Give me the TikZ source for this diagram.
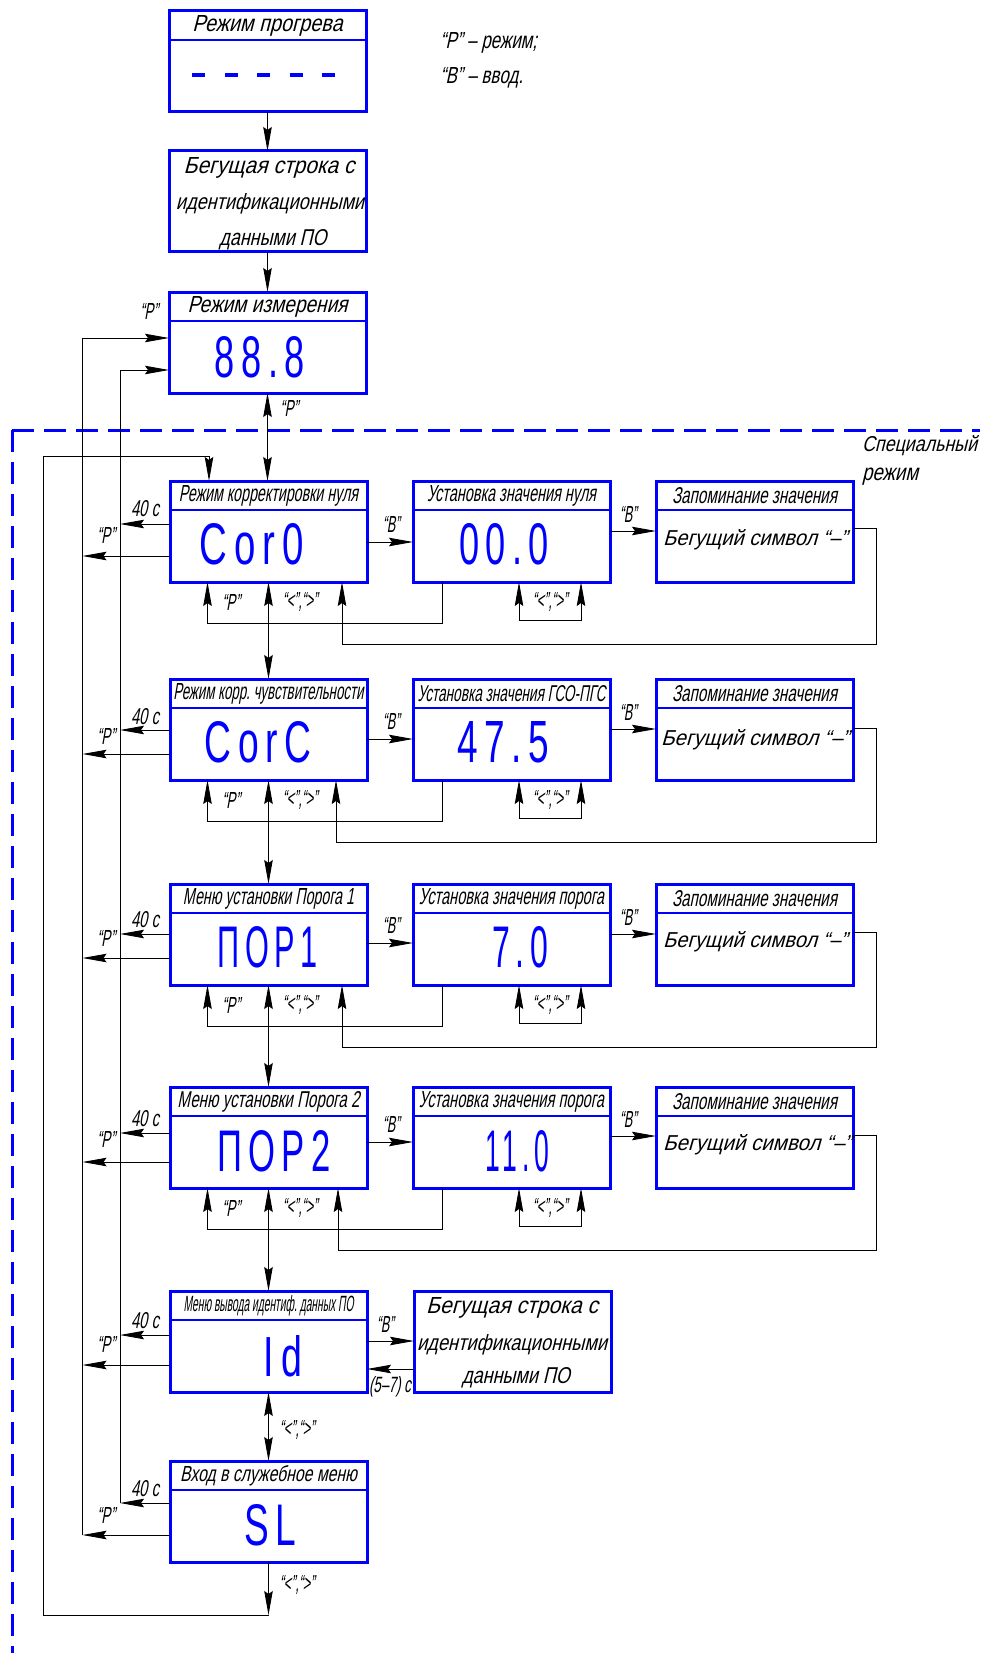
\documentclass[tikz,border=0pt]{standalone}
\usepackage{fontspec}
\usepackage{graphicx}
\usetikzlibrary{arrows.meta}
\newfontfamily\gostf[FakeSlant=0.3]{Liberation Sans}
\newfontfamily\segf[LetterSpace=18]{Liberation Sans}
\definecolor{dblue}{RGB}{0,0,255}
\newcommand\gtxt[2]{\resizebox{#1pt}{16pt}{\gostf #2}}
\newcommand\gtxh[3]{\resizebox{#1pt}{#2pt}{\gostf #3}}
\newcommand\sgt[2]{\resizebox{#1pt}{41pt}{\segf #2}}
\newcommand\titlebox[5]{%
  \node[bx] (#1) at (#2,#3) {};
  \draw[dv] ([yshift=-29pt]#1.north west) -- ([yshift=-29pt]#1.north east);
  \node (#1t) at ([yshift=-15pt]#1.north) {\gtxt{#4}{#5}};}
\newcommand\rowleft[5]{%
  \draw[arr] (#1.west |- 0,#2) -- (120,#2);
  \draw[arr] (#1.west |- 0,#3) -- (82.5,#3);
  \node (#1f) at (145,#4) {\gtxt{28}{40 с}};
  \node (#1p) at (106,#5) {\gtxt{18}{“Р”}};}
\newcommand\rowright[8]{%
  \draw[arr] (#1.east |- 0,#4) -- (#2.west |- 0,#4);
  \node (#1v) at (391,#4-18) {\gtxt{17}{“В”}};
  \draw[arr] (#2.east |- 0,#5) -- (#3.west |- 0,#5);
  \node (#2v) at (628,#5-17) {\gtxt{17}{“В”}};
  \draw[arr] (#2.south -| 442,0) -- (442,#8+41) -| (#1.south -| 207.5,0);
  \draw[darr] (#2.south -| 519,0) -- (519,#8+38) -| (#2.south -| 581,0);
  \draw[arr] (#3.east |- 0,#6) -| (876,#8+62) -| (#1.south -| #7,0);
  \node (#1r) at (231,#8+20) {\gtxt{18}{“Р”}};
  \node (#1k) at (300,#8+20) {\gtxt{35}{“<”,“>”}};
  \node (#2k) at (550,#8+20) {\gtxt{35}{“<”,“>”}};}
\begin{document}
\begin{tikzpicture}[x=1pt,y=-1pt,
  every node/.style={inner sep=0pt,outer sep=0pt},
  bx/.style={draw=dblue,line width=3pt,minimum width=197pt,minimum height=101pt,anchor=north west},
  dv/.style={draw=dblue,line width=2pt},
  ln/.style={line width=0.9pt},
  tip/.style={},
  arr/.style={ln,-{Stealth[length=24pt,width=8.5pt,inset=3pt]}},
  darr/.style={ln,{Stealth[length=24pt,width=8.5pt,inset=3pt]}-{Stealth[length=24pt,width=8.5pt,inset=3pt]}},
  seg/.style={text=dblue},
  frame/.style={draw=dblue,line width=3pt,dash pattern=on 22pt off 10pt}]
\useasboundingbox (0,0) rectangle (980,1653);
\fill[white] (0,0) rectangle (980,1653);
% special-mode frame
\draw[frame] (12,430) -- (980,430);
\draw[frame] (12,430) -- (12,1653);
% top column
\titlebox{b1}{169}{11}{150}{Режим прогрева}
\draw[dblue,line width=3.5pt,dash pattern=on 13pt off 19.5pt] ([shift={(23pt,-64pt)}]b1.north west) -- ([shift={(171pt,-64pt)}]b1.north west);
\node[bx] (b2) at (169,151) {};
\node (b2a) at (269,168) {\gtxt{171}{Бегущая строка с}};
\node (b2b) at (270,204) {\gtxt{188}{идентификационными}};
\node (b2c) at (273,240) {\gtxt{107}{данными ПО}};
\titlebox{b3}{169}{292}{160}{Режим измерения}
\node[seg] (b3d) at (260,357) {\sgt{90}{88.8}};
% row 1
\titlebox{b4}{170}{481}{179}{Режим корректировки нуля}
\titlebox{b5}{413}{481}{169}{Установка значения нуля}
\titlebox{b6}{656}{481}{165}{Запоминание значения}
\node (b6m) at (755,540) {\gtxt{184}{Бегущий символ “–”}};
\node[seg] (b4d) at (252,544) {\sgt{104}{Cor0}};
\node[seg] (b5d) at (504,544) {\sgt{90}{00.0}};
% row 2
\titlebox{b7}{170}{679}{190}{Режим корр.\ чувствительности}
\titlebox{b8}{413}{679}{188}{Установка значения ГСО-ПГС}
\titlebox{b9}{656}{679}{165}{Запоминание значения}
\node (b9m) at (755,740) {\gtxt{188}{Бегущий символ “–”}};
\node[seg] (b7d) at (258,742) {\sgt{107}{CorC}};
\node[seg] (b8d) at (503,742) {\sgt{92}{47.5}};
% row 3
\titlebox{b10}{170}{884}{171}{Меню установки Порога 1}
\titlebox{b11}{413}{884}{185}{Установка значения порога}
\titlebox{b12}{656}{884}{165}{Запоминание значения}
\node (b12m) at (755,942) {\gtxt{184}{Бегущий символ “–”}};
\node[seg] (b10d) at (268,947) {\sgt{100}{ПОР1}};
\node[seg] (b11d) at (520,947) {\sgt{56}{7.0}};
% row 4
\titlebox{b13}{170}{1087}{182}{Меню установки Порога 2}
\titlebox{b14}{413}{1087}{185}{Установка значения порога}
\titlebox{b15}{656}{1087}{165}{Запоминание значения}
\node (b15m) at (757,1145) {\gtxt{188}{Бегущий символ “–”}};
\node[seg] (b13d) at (274,1151) {\sgt{113}{ПОР2}};
\node[seg] (b14d) at (517,1151) {\sgt{64}{11.0}};
% row 5
\titlebox{b16}{170}{1291}{170}{Меню вывода идентиф.\ данных ПО}
\node[seg] (b16d) at (283,1356) {\sgt{38}{Id}};
\node[bx] (b17) at (414,1291) {};
\node (b17a) at (512,1308) {\gtxt{172}{Бегущая строка с}};
\node (b17b) at (512,1345) {\gtxt{190}{идентификационными}};
\node (b17c) at (516,1378) {\gtxt{108}{данными ПО}};
% row 6
\titlebox{b19}{170}{1461}{177}{Вход в служебное меню}
\node[seg] (b19d) at (270,1525) {\sgt{52}{SL}};
% legend and frame caption
\node[anchor=west] (lg1) at (440,43) {\gtxt{97}{“Р” – режим;}};
\node[anchor=west] (lg2) at (440,78) {\gtxt{83}{“В” – ввод.}};
\node[anchor=west] (sp1) at (862,446) {\gtxt{115}{Специальный}};
\node[anchor=west] (sp2) at (862,477) {\gtxh{56}{12.5}{режим}};
% vertical chain
\draw[arr] (b1.south) -- (b2.north);
\draw[arr] (b2.south) -- (b3.north);
\draw[darr] (b3.south) -- (b3.south |- b4.north);
\node (l34) at (289,408) {\gtxt{18}{“Р”}};
\draw[darr] (b4.south) -- (b7.north);
\draw[darr] (b7.south) -- (b10.north);
\draw[darr] (b10.south) -- (b13.north);
\draw[darr] (b13.south) -- (b16.north);
\draw[darr] (b16.south) -- (b19.north);
\node (l1619) at (297,1430) {\gtxt{35}{“<”,“>”}};
\coordinate (cbot) at (268.5,1615);
\coordinate (busO) at (43,456);
\coordinate (t4) at (209,456);
\draw[arr] (b19.south) -- (cbot);
\node (l19b) at (297,1585) {\gtxt{35}{“<”,“>”}};
\draw[ln] (cbot) -- (cbot -| busO) -- (busO) -- (t4);
\draw[arr] (t4) -- (t4 |- b4.north);
% left buses back to measuring mode
\coordinate (pA) at (82.5,338);
\coordinate (pB) at (120,370);
\draw[arr] (pA) -- (pA -| b3.west);
\draw[arr] (pB) -- (pB -| b3.west);
\node (l3p) at (149,311) {\gtxt{18}{“Р”}};
\draw[ln] (pA) -- (82.5,1535);
\draw[ln] (pB) -- (120,1503);
\rowleft{b4}{524}{556}{509}{535}
\rowleft{b7}{730}{754}{717}{736}
\rowleft{b10}{934}{958}{920}{938}
\rowleft{b13}{1133}{1162}{1119}{1139}
\rowleft{b16}{1335}{1365}{1321}{1344}
\rowleft{b19}{1503}{1535}{1489}{1515}
% right parts of rows
\rowright{b4}{b5}{b6}{542}{531}{528}{342}{582}
\rowright{b7}{b8}{b9}{739}{729}{728}{336}{780}
\rowright{b10}{b11}{b12}{943}{934}{932}{342}{985}
\rowright{b13}{b14}{b15}{1142}{1136}{1135}{338}{1188}
% id row
\draw[arr] (b16.east |- 0,1341) -- (b17.west |- 0,1341);
\draw[arr] (b17.west |- 0,1369) -- (b16.east |- 0,1369);
\node (l16v) at (385,1324) {\gtxt{17}{“В”}};
\node (l16t) at (390,1387) {\gtxt{42}{(5–7) с}};
\end{tikzpicture}
\end{document}
